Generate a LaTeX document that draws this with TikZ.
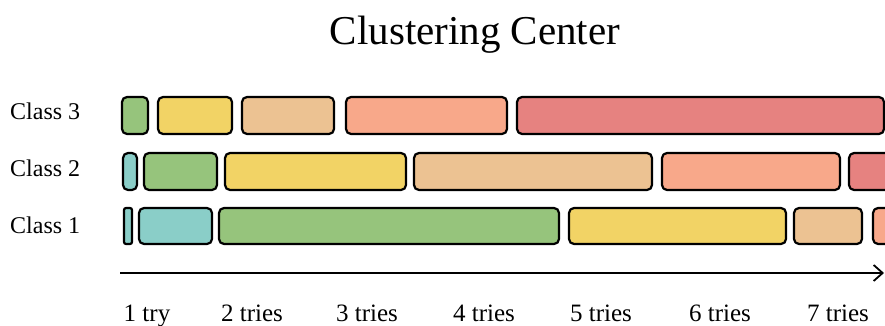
\documentclass[tikz,border=0pt]{standalone}
\usepackage{fontspec}
\setmainfont{Liberation Serif}
\usetikzlibrary{arrows.meta}
\definecolor{cgreen}{RGB}{150,196,124}
\definecolor{cyellow}{RGB}{242,211,101}
\definecolor{ctan}{RGB}{236,194,146}
\definecolor{csalmon}{RGB}{248,168,138}
\definecolor{cred}{RGB}{230,130,128}
\definecolor{ccyan}{RGB}{138,206,200}
\tikzset{
  bar/.style={draw=black, line width=2.2pt, rounded corners=5pt, line join=round},
  rowlabel/.style={anchor=base west, inner sep=0pt, font=\fontsize{24}{28}\selectfont},
  ticklabel/.style={anchor=base, inner sep=0pt, font=\fontsize{25}{29}\selectfont},
  axis/.style={line width=1.8pt, -{Straight Barb[length=9pt,width=16pt,line width=1.8pt]}}
}
\begin{document}
\begin{tikzpicture}[x=1pt,y=-1pt]
\useasboundingbox (0,0) rectangle (885,326);
\node[anchor=base, inner sep=0pt, font=\fontsize{41}{46}\selectfont] (title) at (475,45) {Clustering Center};
\node[rowlabel] (l3) at (10,120) {Class 3};
\node[rowlabel] (l2) at (10,176) {Class 2};
\node[rowlabel] (l1) at (10,233) {Class 1};
\begin{scope}
\clip (0,0) rectangle (885,326);
% Class 3
\draw[bar, fill=cgreen]   (122,97) rectangle (148,134);
\draw[bar, fill=cyellow]  (158,97) rectangle (232,134);
\draw[bar, fill=ctan]     (242,97) rectangle (334,134);
\draw[bar, fill=csalmon]  (346,97) rectangle (507,134);
\draw[bar, fill=cred]     (517,97) rectangle (884,134);
% Class 2
\draw[bar, fill=ccyan]    (123,153) rectangle (137,190);
\draw[bar, fill=cgreen]   (144,153) rectangle (217,190);
\draw[bar, fill=cyellow]  (225,153) rectangle (406,190);
\draw[bar, fill=ctan]     (414,153) rectangle (652,190);
\draw[bar, fill=csalmon]  (662,153) rectangle (840,190);
\draw[bar, fill=cred]     (849,153) rectangle (900,190);
% Class 1
\draw[bar, fill=ccyan, rounded corners=2pt] (124,208) rectangle (132,244);
\draw[bar, fill=ccyan]    (139,208) rectangle (212,244);
\draw[bar, fill=cgreen]   (219,208) rectangle (559,244);
\draw[bar, fill=cyellow]  (569,208) rectangle (786,244);
\draw[bar, fill=ctan]     (794,208) rectangle (862,244);
\draw[bar, fill=csalmon]  (873,208) rectangle (900,244);
\end{scope}
\coordinate (a0) at (120,273);
\coordinate (a1) at (884,273);
\draw[axis] (a0) -- (a1);
\node[ticklabel] (t1) at (147,321) {1 try};
\node[ticklabel] (t2) at (252,321) {2 tries};
\node[ticklabel] (t3) at (367,321) {3 tries};
\node[ticklabel] (t4) at (484,321) {4 tries};
\node[ticklabel] (t5) at (601,321) {5 tries};
\node[ticklabel] (t6) at (720,321) {6 tries};
\node[ticklabel] (t7) at (838,321) {7 tries};
\end{tikzpicture}
\end{document}
